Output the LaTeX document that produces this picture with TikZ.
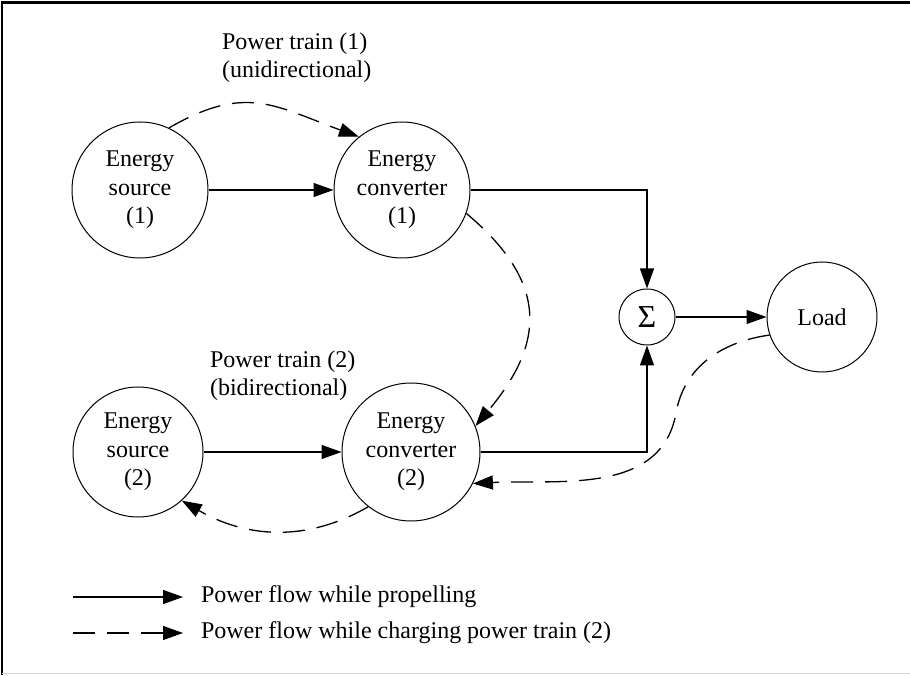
\documentclass[tikz,border=0pt]{standalone}
\usepackage{fontspec}
\setmainfont{Liberation Serif}
\usetikzlibrary{arrows.meta}

\begin{document}
\begin{tikzpicture}[x=0.5pt, y=0.5pt,
        every node/.style={font=\fontsize{12}{14.2}\selectfont},
        unit/.style={draw, circle, line width=0.5pt, inner sep=0pt, align=center},
        flow/.style={line width=0.65pt, -{Triangle[length=10pt, width=7pt]}},
        charge/.style={flow, dash pattern=on 11pt off 6pt}]
        \useasboundingbox (0,0) rectangle (910,675);

        % frame
        \draw [line width=1.2pt] (2,0) -- (2,672.5) -- (910,672.5);
        \draw [gray!35, line width=0.6pt] (2,1.5) -- (910,1.5);

        % power train (1)
        \node [unit, minimum size=68pt] (src1) at (140,485) {Energy\\source\\(1)};
        \node [unit, minimum size=68pt] (conv1) at (402,485) {Energy\\converter\\(1)};
        \node [align=left, anchor=west] (train1) at (215,617) {Power train (1)\\(unidirectional)};

        % power train (2)
        \node [unit, minimum size=65pt] (src2) at (138,223) {Energy\\source\\(2)};
        \node [unit, minimum size=69pt] (conv2) at (411,223) {Energy\\converter\\(2)};
        \node [align=left, anchor=west] (train2) at (203,299) {Power train (2)\\(bidirectional)};

        % sum and load
        \node [unit, minimum size=28pt, font=\fontsize{16}{16}\selectfont] (sum) at (647,358) {Σ};
        \node [unit, minimum size=55pt] (load) at (822,358) {Load};

        % propelling
        \draw [flow] (src1) -- (conv1);
        \draw [flow] (src2) -- (conv2);
        \draw [flow] (conv1.east) -| (sum.north);
        \draw [flow] (conv2.east) -| (sum.south);
        \draw [flow] (sum) -- (load);

        % charging
        \draw [charge] (src1.65) to[out=30, in=160, looseness=1.2] (conv1.129);
        \draw [charge] (conv1.-20) to[out=-40, in=50, looseness=1.3] (conv2.22);
        \draw [charge] (conv2.-128) to[out=-150, in=-30] (src2.-48);
        \coordinate (turn) at (676,262);
        \draw [charge] (load.199) to[out=188, in=80] (turn) to[out=-100, in=3] (conv2.-27);

        % legend
        \coordinate (legA) at (73,78);
        \coordinate (legB) at (73,42);
        \node [anchor=west] (propel) at (194,78) {Power flow while propelling};
        \node [anchor=west] (charging) at (194,42) {Power flow while charging power train (2)};
        \draw [flow, shorten >=5.5pt] (legA) -- (propel.west);
        \draw [charge, shorten >=5.5pt] (legB) -- (charging.west);
\end{tikzpicture}
\end{document}
